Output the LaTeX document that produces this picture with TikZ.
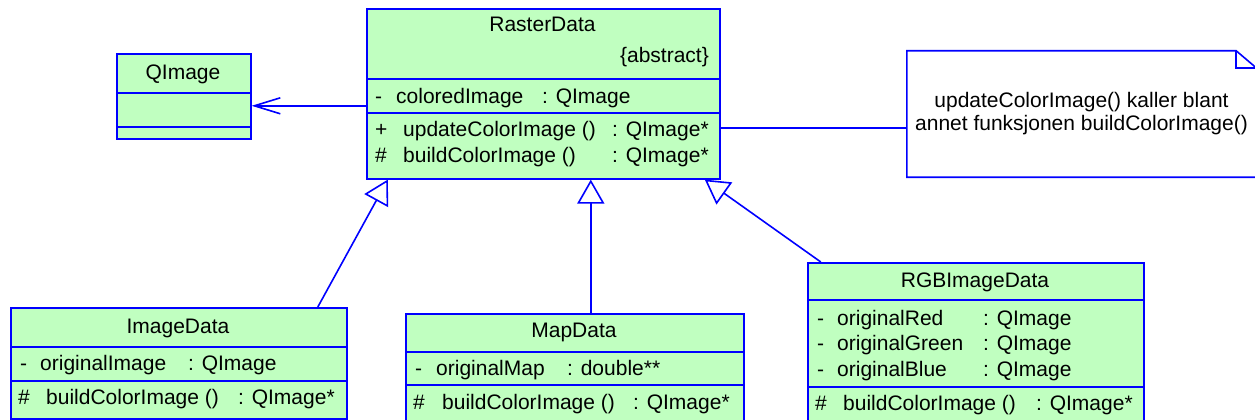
\documentclass[tikz,border=0pt]{standalone}
\usepackage{fontspec}
\setmainfont{Liberation Sans}
\usetikzlibrary{arrows.meta}

\definecolor{umlblue}{RGB}{0,0,255}
\definecolor{umlgreen}{RGB}{192,255,192}

\tikzset{
  umlclass/.style={draw=umlblue, fill=umlgreen, line width=1.6pt, anchor=north west, inner sep=0pt},
  umlline/.style={draw=umlblue, line width=1.6pt},
  classname/.style={anchor=base, inner sep=0pt},
  txt/.style={anchor=base west, inner sep=0pt},
  inherit/.style={umlline, -{Triangle[open, length=24pt, width=27pt]}},
  assoc/.style={umlline, -{Straight Barb[length=26pt, width=16pt]}},
}

\begin{document}
\begin{tikzpicture}[x=1pt, y=-1pt, font=\fontsize{21}{23}\selectfont]
\clip (0,0) rectangle (1255,420);

% class boxes
\node[umlclass, minimum width=353pt, minimum height=170pt] (raster) at (366,8) {};
\node[umlclass, minimum width=134pt, minimum height=85pt] (qimage) at (116,53) {};
\node[umlclass, minimum width=336pt, minimum height=111pt] (imgdata) at (10,307) {};
\node[umlclass, minimum width=338pt, minimum height=125pt] (mapdata) at (405,313) {};
\node[umlclass, minimum width=336pt, minimum height=170pt] (rgbdata) at (807,262) {};

% compartments
\draw[umlline] (366,79) -- (721,79) (366,113) -- (721,113);
\draw[umlline] (116,93) -- (252,93) (116,127) -- (252,127);
\draw[umlline] (10,347) -- (348,347) (10,381) -- (348,381);
\draw[umlline] (405,352) -- (745,352) (405,385) -- (745,385);
\draw[umlline] (807,300) -- (1145,300) (807,387) -- (1145,387);

% RasterData
\node[classname] (rastername) at (542.5,32) {RasterData};
\node[anchor=base east, inner sep=0pt] (rasterabs) at (709,63) {\{abstract\}};
\node[txt] (rasterv1) at (375,103) {-};
\node[txt] (rastera1) at (396,103) {coloredImage};
\node[txt] (rastert1) at (542,103) {: QImage};
\node[txt] (rasterv2) at (375,136) {+};
\node[txt] (rasterm2) at (403,136) {updateColorImage ()};
\node[txt] (rastert2) at (612,136) {: QImage*};
\node[txt] (rasterv3) at (375,162) {\#};
\node[txt] (rasterm3) at (403,162) {buildColorImage ()};
\node[txt] (rastert3) at (612,162) {: QImage*};

% QImage
\node[classname] (qimagename) at (183,79) {QImage};

% ImageData
\node[classname] (imgdataname) at (178,333) {ImageData};
\node[txt] (imgdatav1) at (20,370) {-};
\node[txt] (imgdataa1) at (40,370) {originalImage};
\node[txt] (imgdatat1) at (188,370) {: QImage};
\node[txt] (imgdatav2) at (18,404) {\#};
\node[txt] (imgdatam2) at (46,404) {buildColorImage ()};
\node[txt] (imgdatat2) at (238,404) {: QImage*};

% MapData
\node[classname] (mapdataname) at (574,337) {MapData};
\node[txt] (mapdatav1) at (415,375) {-};
\node[txt] (mapdataa1) at (436,375) {originalMap};
\node[txt] (mapdatat1) at (567,375) {: double**};
\node[txt] (mapdatav2) at (413,409) {\#};
\node[txt] (mapdatam2) at (442,409) {buildColorImage ()};
\node[txt] (mapdatat2) at (633,409) {: QImage*};

% RGBImageData
\node[classname] (rgbdataname) at (975,287) {RGBImageData};
\foreach \n/\y in {Red/325, Green/350, Blue/376} {
  \node[txt] (rgbdatav\n) at (817,\y) {-};
  \node[txt] (rgbdataa\n) at (837,\y) {original\n};
  \node[txt] (rgbdatat\n) at (983,\y) {: QImage};
}
\node[txt] (rgbdatav4) at (815,410) {\#};
\node[txt] (rgbdatam4) at (843,410) {buildColorImage ()};
\node[txt] (rgbdatat4) at (1036,410) {: QImage*};

% note with folded corner
\node[minimum width=349pt, minimum height=126pt, align=center, inner sep=0pt] (note) at (1081.5,114)
  {updateColorImage() kaller blant\\annet funksjonen buildColorImage()};
\draw[umlline] (note.north west) -- ([xshift=-20pt]note.north east) -- ([yshift=-17pt]note.north east)
  -- (note.south east) -- (note.south west) -- cycle;
\draw[umlline] ([xshift=-20pt]note.north east) |- ([yshift=-17pt]note.north east);

% connectors
\coordinate (assocstart) at ([yshift=-12pt]raster.west);
\draw[assoc] (assocstart) -- (assocstart -| qimage.east);
\coordinate (notestart) at ([yshift=-34pt]raster.east);
\draw[umlline] (notestart) -- (notestart -| note.west);

\draw[inherit] ([xshift=139pt]imgdata.north) -- ([xshift=-155.5pt]raster.south);
\draw[inherit] ([xshift=16pt]mapdata.north) -- ([xshift=47.5pt]raster.south);
\draw[inherit] ([xshift=-155pt]rgbdata.north) -- ([xshift=161.5pt]raster.south);
\end{tikzpicture}
\end{document}
